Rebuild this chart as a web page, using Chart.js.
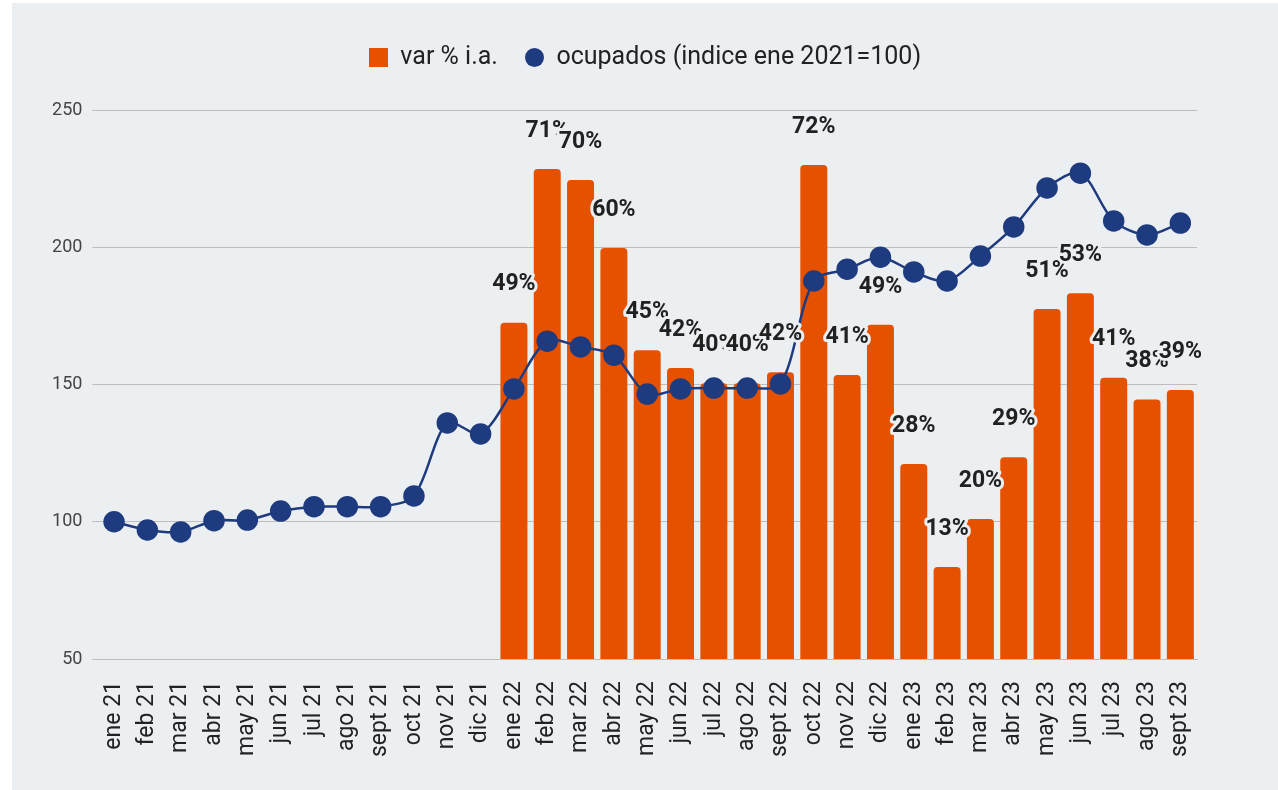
<!DOCTYPE html>
<html>
<head>
<meta charset="utf-8">
<script src="https://cdn.jsdelivr.net/npm/chart.js@4.4.1/dist/chart.umd.min.js"></script>
<style>
    body { margin: 0; background: #ffffff; }
    #wrap { position: absolute; left: 12px; top: 3px; width: 1266px; height: 787px; background: #eceff1; }
</style>
</head>
<body>
<div id="wrap"><canvas id="chart" width="1266" height="787"></canvas></div>
<script>
const months = [
    "ene 21", "feb 21", "mar 21", "abr 21", "may 21", "jun 21", "jul 21", "ago 21", "sept 21", "oct 21", "nov 21", "dic 21",
    "ene 22", "feb 22", "mar 22", "abr 22", "may 22", "jun 22", "jul 22", "ago 22", "sept 22", "oct 22", "nov 22", "dic 22",
    "ene 23", "feb 23", "mar 23", "abr 23", "may 23", "jun 23", "jul 23", "ago 23", "sept 23"
];

// var % i.a. (no data during 2021)
const varPct = [
    null, null, null, null, null, null, null, null, null, null, null, null,
    49, 71.4, 69.8, 59.9, 45, 42.4, 40.2, 40.2, 41.8, 72, 41.4, 48.7,
    28.4, 13.4, 20.4, 29.4, 51, 53.3, 41, 37.8, 39.2
];

// ocupados, indice ene 2021 = 100
const ocupados = [
    100, 97, 96.3, 100.4, 100.6, 103.9, 105.5, 105.5, 105.5, 109.4, 136, 132,
    148.4, 165.8, 163.7, 160.7, 146.5, 148.4, 148.7, 148.7, 150.2, 187.7, 192, 196.4,
    191, 187.7, 196.8, 207.4, 221.6, 227, 209.6, 204.5, 208.8
];

const yTicks = [50, 100, 150, 200, 250];

const orange = "#e65100";
const navy = "#1f3b80";
const bg = "#eceff1";

function makeIcon(shape, color) {
    const c = document.createElement("canvas");
    c.width = 19;
    c.height = 19;
    const g = c.getContext("2d");
    g.fillStyle = color;
    if (shape === "circle") {
        g.beginPath();
        g.arc(9.5, 9.5, 9.5, 0, Math.PI * 2);
        g.fill();
    } else {
        g.fillRect(0, 0, 19, 19);
    }
    return c;
}
const icons = [makeIcon("rect", orange), makeIcon("circle", navy)];

/* extra space under the legend */
const legendGap = {
    id: "legendGap",
    beforeInit(chart) {
        const fit = chart.legend.fit;
        chart.legend.fit = function () {
            fit.call(this);
            this.height += 30;
        };
    }
};

/* percentage labels above the bars */
const barLabels = {
    id: "barLabels",
    afterDatasetsDraw(chart) {
        const ctx = chart.ctx;
        const meta = chart.getDatasetMeta(0);
        ctx.save();
        ctx.font = "bold 23px Roboto";
        ctx.textAlign = "center";
        ctx.textBaseline = "middle";
        ctx.lineJoin = "round";
        ctx.lineWidth = 6;
        ctx.strokeStyle = bg;
        ctx.fillStyle = "#212121";
        meta.data.forEach((bar, i) => {
            const v = varPct[i];
            if (v == null) return;
            const txt = Math.round(v) + "%";
            const y = bar.y - 38;
            ctx.strokeText(txt, bar.x, y);
            ctx.fillText(txt, bar.x, y);
        });
        ctx.restore();
    }
};

new Chart(document.getElementById("chart"), {
    data: {
        labels: months,
        datasets: [{
            type: "bar",
            label: "var % i.a.",
            data: varPct,
            yAxisID: "y1",
            backgroundColor: orange,
            borderRadius: 4,
            barPercentage: 0.81,
            categoryPercentage: 1,
            order: 2
        }, {
            type: "line",
            label: "ocupados (indice ene 2021=100)",
            data: ocupados,
            yAxisID: "y",
            borderColor: navy,
            backgroundColor: navy,
            borderWidth: 2.5,
            pointRadius: 9.5,
            pointBackgroundColor: navy,
            pointBorderColor: navy,
            tension: 0.3,
            order: 1
        }]
    },
    options: {
        responsive: false,
        animation: false,
        layout: { padding: { top: 15, right: 0, bottom: 0, left: 0 } },
        plugins: {
            tooltip: { enabled: false },
            legend: {
                position: "top",
                labels: {
                    font: { family: "Roboto", size: 25 },
                    color: "#222222",
                    usePointStyle: true,
                    boxWidth: 19,
                    boxHeight: 19,
                    padding: 27,
                    sort: (a, b) => a.datasetIndex - b.datasetIndex,
                    generateLabels(chart) {
                        const items = Chart.defaults.plugins.legend.labels.generateLabels(chart);
                        items.forEach(it => { it.pointStyle = icons[it.datasetIndex]; });
                        return items;
                    }
                }
            }
        },
        scales: {
            x: {
                offset: true,
                grid: { display: false },
                border: { color: "#bdbdbd" },
                ticks: {
                    autoSkip: false,
                    minRotation: 90,
                    maxRotation: 90,
                    padding: 14,
                    color: "#222222",
                    font: { family: "Roboto", size: 23 }
                },
                afterFit(scale) { scale.height = 131; }
            },
            y: {
                min: 50,
                max: 250,
                afterBuildTicks(scale) { scale.ticks = yTicks.map(v => ({ value: v })); },
                grid: { color: "#bdbdbd", tickLength: 5 },
                border: { display: false },
                ticks: {
                    padding: 10,
                    color: "#444444",
                    font: { family: "Roboto", size: 18 }
                },
                afterFit(scale) { scale.width = 85.4; }
            },
            y1: {
                position: "right",
                min: 0,
                max: 80,
                ticks: { display: false },
                grid: { display: false },
                border: { display: false },
                afterFit(scale) { scale.width = 81; }
            }
        }
    },
    plugins: [legendGap, barLabels]
});
</script>
</body>
</html>
